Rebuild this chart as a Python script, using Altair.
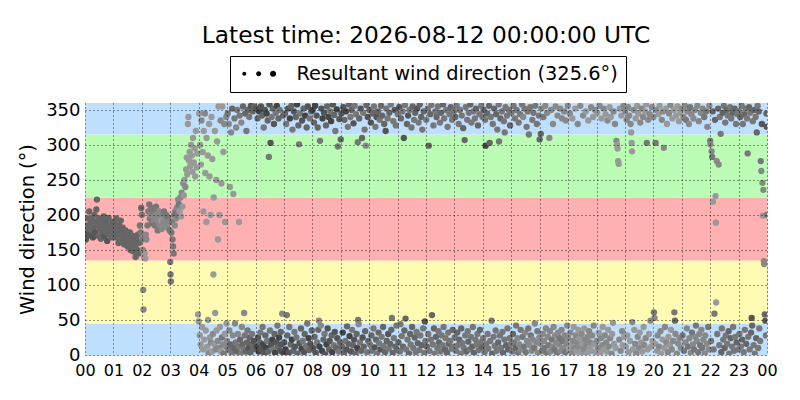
import altair as alt
import pandas as pd

# ---- readings: (hour of day, wind direction deg, grey shade code) ----
seg_00 = [(0.00,175,4),(0.03,165,4),(0.05,185,5),(0.08,170,4),(0.10,195,5),(0.12,180,5),(0.15,205,5),(0.18,172,4),(0.20,188,5),(0.23,178,5),(0.26,195,5),(0.28,168,4),(0.30,182,5),(0.33,200,5),(0.36,175,4),(0.38,190,5),(0.40,208,5),(0.42,222,5),(0.45,185,5),(0.48,170,5),(0.50,195,5),(0.53,180,5),(0.56,166,5),(0.58,192,5),(0.60,175,5),(0.63,188,5),(0.66,198,5),(0.68,170,4),(0.70,182,5),(0.73,175,5),(0.75,190,5),(0.78,163,4),(0.80,180,5),(0.83,196,5),(0.86,172,5),(0.88,185,5),(0.90,178,5),(0.93,168,5),(0.96,190,5),(0.98,182,5)]
seg_01 = [(1.02,175,5),(1.05,188,5),(1.08,168,5),(1.10,195,5),(1.13,180,5),(1.16,172,5),(1.18,160,5),(1.20,185,5),(1.23,178,5),(1.26,192,5),(1.28,165,5),(1.30,175,5),(1.33,182,5),(1.36,170,5),(1.38,158,5),(1.40,168,5),(1.43,178,5),(1.46,162,5),(1.48,172,5),(1.50,155,5),(1.53,168,5),(1.56,160,5),(1.58,175,5),(1.60,150,5),(1.63,165,5),(1.66,158,5),(1.68,170,5),(1.70,148,5),(1.73,160,5),(1.76,155,5),(1.78,140,5),(1.80,165,5),(1.83,150,5),(1.86,172,5),(1.88,145,5),(1.90,160,5),(1.93,185,6),(1.96,175,6),(1.98,210,5)]
seg_02 = [(2.00,200,6),(2.02,165,6),(2.04,150,7),(2.05,93,7),(2.06,65,7),(2.08,140,8),(2.10,145,8),(2.12,138,8),(2.14,172,7),(2.16,165,7),(2.20,185,6),(2.23,205,6),(2.26,215,6),(2.28,195,6),(2.30,200,7),(2.33,210,6),(2.36,188,6),(2.38,198,7),(2.40,205,6),(2.43,192,7),(2.46,185,6),(2.48,200,7),(2.50,212,6),(2.53,195,7),(2.56,178,6),(2.58,190,7),(2.60,205,7),(2.63,185,7),(2.66,198,7),(2.68,192,8),(2.70,180,7),(2.73,200,7),(2.76,190,7),(2.78,205,6),(2.80,185,7),(2.83,195,7),(2.86,200,6),(2.88,188,7),(2.90,182,7),(2.93,196,6),(2.96,190,7),(2.98,178,6)]
seg_03 = [(3.00,133,6),(3.01,115,6),(3.02,105,6),(3.04,175,6),(3.06,190,6),(3.08,165,6),(3.10,155,6),(3.12,145,6),(3.14,200,6),(3.16,185,7),(3.18,205,6),(3.20,195,7),(3.23,210,7),(3.26,200,6),(3.28,222,7),(3.30,215,6),(3.33,205,8),(3.36,225,7),(3.38,198,8),(3.40,232,7),(3.43,212,8),(3.46,245,7),(3.48,228,8),(3.50,250,8),(3.53,240,7),(3.56,265,8),(3.58,282,8),(3.60,258,8),(3.62,330,8),(3.64,340,8),(3.66,278,8),(3.68,290,8),(3.70,270,8),(3.73,300,8),(3.76,285,8),(3.78,262,8),(3.80,310,8),(3.83,275,8),(3.86,295,8),(3.88,255,8),(3.90,320,8),(3.93,268,8),(3.96,288,8),(3.98,58,8)]
seg_04 = [(4.00,48,8),(4.02,345,8),(4.04,28,8),(4.05,300,8),(4.07,15,8),(4.08,272,8),(4.10,335,7),(4.12,40,8),(4.14,290,8),(4.15,8,8),(4.17,205,8),(4.18,320,8),(4.20,22,8),(4.22,345,7),(4.23,260,8),(4.25,35,8),(4.27,190,8),(4.28,310,8),(4.30,12,8),(4.32,285,8),(4.33,50,8),(4.35,3,7),(4.37,330,8),(4.38,255,8),(4.40,25,8),(4.42,200,8),(4.43,18,7),(4.45,340,8),(4.47,5,8),(4.48,280,8),(4.50,30,7),(4.52,115,8),(4.53,225,8),(4.55,15,8),(4.57,320,8),(4.58,60,8),(4.60,8,7),(4.62,250,8),(4.63,35,8),(4.65,305,8),(4.67,20,7),(4.68,165,8),(4.70,355,8),(4.72,10,7),(4.73,200,8),(4.75,40,8),(4.77,335,7),(4.78,5,8),(4.80,245,8),(4.82,25,6),(4.83,355,8),(4.85,15,7),(4.87,290,8),(4.88,2,6),(4.90,330,7),(4.92,30,8),(4.93,190,8),(4.95,12,7),(4.97,340,7),(4.98,45,8)]
seg_05 = [(5.00,20,7),(5.02,345,6),(5.04,8,6),(5.06,330,7),(5.08,35,7),(5.10,240,8),(5.12,15,5),(5.14,318,7),(5.16,3,6),(5.18,352,5),(5.20,28,7),(5.22,230,8),(5.24,10,5),(5.26,338,6),(5.28,45,7),(5.30,18,6),(5.32,325,7),(5.34,5,5),(5.36,350,6),(5.38,30,7),(5.40,12,6),(5.42,190,8),(5.44,342,6),(5.46,22,5),(5.48,2,6),(5.50,332,7),(5.52,40,7),(5.54,15,5),(5.56,355,5),(5.58,8,6),(5.60,60,7),(5.62,28,6),(5.64,345,5),(5.66,5,5),(5.68,320,6),(5.70,18,5),(5.72,35,6),(5.74,350,5),(5.76,10,4),(5.78,340,6),(5.80,25,5),(5.82,3,5),(5.84,356,4),(5.86,15,5),(5.88,30,6),(5.90,348,5),(5.92,8,5),(5.94,20,4),(5.96,355,5),(5.98,12,5)]
seg_06 = [(6.02,352,4),(6.05,12,3),(6.07,338,5),(6.09,25,4),(6.11,5,3),(6.13,348,3),(6.15,18,5),(6.17,32,6),(6.19,355,4),(6.21,8,4),(6.23,342,5),(6.25,40,6),(6.27,15,3),(6.29,325,6),(6.31,2,4),(6.33,350,4),(6.35,28,5),(6.37,10,3),(6.39,345,3),(6.41,20,6),(6.43,335,5),(6.45,5,5),(6.47,283,6),(6.49,358,4),(6.51,35,6),(6.53,303,4),(6.55,14,4),(6.57,340,6),(6.59,22,3),(6.61,352,5),(6.63,8,6),(6.65,330,4),(6.67,30,5),(6.69,3,3),(6.71,346,6),(6.73,18,4),(6.75,356,3),(6.77,42,6),(6.79,12,5),(6.81,338,5),(6.83,25,3),(6.85,350,6),(6.87,6,4),(6.89,33,5),(6.91,15,4),(6.94,59,7),(6.97,342,5),(6.99,2,3)]
seg_07 = [(7.01,18,4),(7.04,345,5),(7.06,8,3),(7.08,330,6),(7.10,57,6),(7.12,28,5),(7.15,352,4),(7.17,3,4),(7.19,40,6),(7.21,338,3),(7.24,15,5),(7.26,356,5),(7.28,22,3),(7.30,322,6),(7.33,6,5),(7.35,348,4),(7.37,33,6),(7.39,12,4),(7.42,340,5),(7.44,25,6),(7.46,358,3),(7.48,2,5),(7.51,328,5),(7.53,301,6),(7.55,17,4),(7.57,345,6),(7.60,38,5),(7.62,9,3),(7.64,335,4),(7.66,20,6),(7.69,352,5),(7.71,4,4),(7.73,30,5),(7.75,342,3),(7.78,13,6),(7.80,325,5),(7.82,45,6),(7.84,355,4),(7.87,24,3),(7.89,7,5),(7.91,338,6),(7.93,16,4),(7.96,348,5),(7.98,35,5)]
seg_08 = [(8.01,350,3),(8.03,10,4),(8.06,332,5),(8.08,26,5),(8.10,356,3),(8.12,3,4),(8.15,342,4),(8.17,18,6),(8.19,325,5),(8.21,36,5),(8.23,49,7),(8.25,12,3),(8.27,306,6),(8.30,42,7),(8.32,352,4),(8.34,6,3),(8.36,338,3),(8.39,22,5),(8.41,346,4),(8.43,30,6),(8.45,1,4),(8.48,328,5),(8.50,15,3),(8.52,355,5),(8.54,38,4),(8.57,340,3),(8.59,8,5),(8.61,20,4),(8.63,348,6),(8.66,334,3),(8.68,28,5),(8.70,4,3),(8.72,358,4),(8.75,14,6),(8.77,343,5),(8.79,33,4),(8.81,320,6),(8.84,10,5),(8.86,351,3),(8.88,24,4),(8.90,298,6),(8.93,5,6),(8.95,337,4),(8.97,18,5)]
seg_09 = [(9.00,308,5),(9.02,345,4),(9.04,12,5),(9.07,32,3),(9.09,354,4),(9.11,3,5),(9.13,336,5),(9.16,20,6),(9.18,348,3),(9.20,8,4),(9.22,41,5),(9.25,326,6),(9.27,16,5),(9.29,358,5),(9.31,27,3),(9.34,340,6),(9.36,5,4),(9.38,350,5),(9.40,36,6),(9.43,14,5),(9.45,331,4),(9.47,22,4),(9.49,356,6),(9.52,2,5),(9.54,344,6),(9.56,30,5),(9.58,10,3),(9.60,304,6),(9.61,50,6),(9.63,44,7),(9.65,338,5),(9.67,18,6),(9.70,352,4),(9.72,6,5),(9.75,310,5),(9.77,25,4),(9.79,346,6),(9.81,12,5),(9.84,322,6),(9.86,34,5),(9.88,299,7),(9.90,357,5),(9.93,4,6),(9.95,340,4),(9.97,20,5)]
seg_10 = [(10.01,350,5),(10.03,15,6),(10.06,332,4),(10.08,28,5),(10.10,6,6),(10.13,345,5),(10.15,38,6),(10.17,355,6),(10.19,11,4),(10.22,326,6),(10.24,22,5),(10.26,340,4),(10.28,2,6),(10.31,348,5),(10.33,32,5),(10.35,17,6),(10.37,336,6),(10.40,8,4),(10.42,356,5),(10.44,26,6),(10.46,342,5),(10.49,40,5),(10.51,13,6),(10.53,330,5),(10.56,4,5),(10.58,320,4),(10.60,352,6),(10.62,20,5),(10.65,338,6),(10.67,30,4),(10.69,9,6),(10.71,346,5),(10.74,16,5),(10.76,358,6),(10.78,36,5),(10.80,53,6),(10.83,3,5),(10.85,334,6),(10.87,24,6),(10.90,350,4),(10.92,12,5),(10.94,328,6),(10.96,42,6),(10.98,7,5)]
seg_11 = [(11.01,344,6),(11.03,18,5),(11.06,354,4),(11.08,5,6),(11.10,44,6),(11.12,338,5),(11.15,27,6),(11.17,348,6),(11.19,12,5),(11.22,310,4),(11.24,35,5),(11.26,357,6),(11.28,52,5),(11.30,8,6),(11.33,330,5),(11.35,22,6),(11.37,342,4),(11.40,2,5),(11.42,350,6),(11.44,30,5),(11.46,15,6),(11.49,325,6),(11.51,40,5),(11.53,355,5),(11.55,10,6),(11.58,336,6),(11.60,25,5),(11.62,346,5),(11.64,4,6),(11.67,33,6),(11.69,352,4),(11.71,17,5),(11.74,332,6),(11.76,7,6),(11.78,358,5),(11.80,28,6),(11.83,340,5),(11.85,14,5),(11.87,322,6),(11.90,38,6),(11.92,348,5),(11.94,3,6),(11.96,48,4),(11.98,20,6)]
seg_12 = [(12.01,336,6),(12.03,12,5),(12.06,352,6),(12.08,30,6),(12.10,299,5),(12.12,6,6),(12.15,344,5),(12.17,22,6),(12.19,357,6),(12.21,57,5),(12.24,15,6),(12.26,328,6),(12.28,38,5),(12.30,2,6),(12.33,348,6),(12.35,26,5),(12.37,340,5),(12.40,10,6),(12.42,355,6),(12.44,34,6),(12.46,18,5),(12.49,332,6),(12.51,5,6),(12.53,346,5),(12.55,28,6),(12.58,14,6),(12.60,358,5),(12.62,40,6),(12.64,338,6),(12.67,8,5),(12.69,24,6),(12.71,350,6),(12.74,3,5),(12.76,326,6),(12.78,32,6),(12.80,16,5),(12.83,344,6),(12.85,20,6),(12.87,354,5),(12.90,9,6),(12.92,336,6),(12.94,36,5),(12.96,12,6),(12.98,348,6)]
seg_13 = [(13.01,25,6),(13.03,340,5),(13.06,6,6),(13.08,356,6),(13.10,32,5),(13.13,14,6),(13.15,330,6),(13.17,22,5),(13.19,350,6),(13.22,2,6),(13.24,38,5),(13.26,342,6),(13.28,17,6),(13.31,324,5),(13.33,10,6),(13.36,307,5),(13.38,28,6),(13.40,354,6),(13.42,5,5),(13.45,336,6),(13.47,34,6),(13.49,19,5),(13.51,346,6),(13.54,8,6),(13.56,358,5),(13.58,26,6),(13.60,332,6),(13.63,12,5),(13.65,40,6),(13.67,348,6),(13.69,3,5),(13.72,338,6),(13.74,22,6),(13.76,352,5),(13.78,15,6),(13.81,30,6),(13.83,328,5),(13.85,7,6),(13.88,344,6),(13.90,36,5),(13.92,18,6),(13.94,356,6),(13.97,11,5),(13.99,340,6)]
seg_14 = [(14.01,24,6),(14.03,350,5),(14.06,4,6),(14.08,336,6),(14.10,299,3),(14.12,16,6),(14.15,345,5),(14.17,30,6),(14.19,9,6),(14.22,356,5),(14.24,303,5),(14.26,20,6),(14.28,340,6),(14.31,49,6),(14.33,2,5),(14.35,330,6),(14.38,26,6),(14.40,352,5),(14.42,13,6),(14.45,35,6),(14.47,344,5),(14.49,6,6),(14.51,322,6),(14.54,18,5),(14.56,358,6),(14.57,305,6),(14.60,28,6),(14.62,338,5),(14.64,10,6),(14.67,348,6),(14.69,33,6),(14.71,3,5),(14.74,334,6),(14.76,22,6),(14.77,318,6),(14.80,354,6),(14.82,14,5),(14.85,342,6),(14.87,38,6),(14.89,8,5),(14.92,350,6),(14.94,24,6),(14.96,328,5),(14.99,16,6)]
seg_15 = [(15.01,346,6),(15.03,5,6),(15.06,30,5),(15.08,356,6),(15.10,18,6),(15.13,338,6),(15.15,10,5),(15.17,42,6),(15.19,350,6),(15.22,24,7),(15.24,2,6),(15.26,332,6),(15.28,15,7),(15.31,344,6),(15.33,36,6),(15.35,8,7),(15.38,358,6),(15.40,26,6),(15.42,340,7),(15.45,12,6),(15.47,352,6),(15.49,32,7),(15.51,4,6),(15.54,326,6),(15.56,20,7),(15.58,348,6),(15.60,38,6),(15.62,315,6),(15.65,14,7),(15.67,354,6),(15.69,28,6),(15.72,6,7),(15.74,336,6),(15.76,22,7),(15.78,346,6),(15.81,10,6),(15.83,45,7),(15.85,356,6),(15.88,18,7),(15.90,330,6),(15.92,34,6),(15.94,3,7),(15.97,342,6),(15.99,25,7)]
seg_16 = [(16.00,308,5),(16.02,16,7),(16.04,316,5),(16.06,352,7),(16.08,6,6),(16.11,30,7),(16.13,340,6),(16.15,20,7),(16.17,10,6),(16.20,356,7),(16.22,38,7),(16.24,2,6),(16.26,346,7),(16.29,26,7),(16.31,14,6),(16.34,310,7),(16.36,34,7),(16.38,5,7),(16.40,350,7),(16.43,22,6),(16.45,12,7),(16.47,330,7),(16.49,40,7),(16.52,8,6),(16.54,28,7),(16.56,355,7),(16.58,18,7),(16.61,3,6),(16.63,342,7),(16.65,32,7),(16.68,15,7),(16.70,24,6),(16.72,352,7),(16.74,6,7),(16.77,36,7),(16.79,338,7),(16.81,20,6),(16.83,10,7),(16.86,348,7),(16.88,28,7),(16.90,4,6),(16.92,335,7),(16.95,16,7),(16.97,42,7),(16.99,356,7)]
seg_17 = [(17.01,24,7),(17.04,8,8),(17.06,345,7),(17.08,32,7),(17.11,14,8),(17.13,2,7),(17.15,338,8),(17.18,20,7),(17.20,40,8),(17.22,10,7),(17.25,352,8),(17.27,28,7),(17.29,5,8),(17.32,18,7),(17.34,330,7),(17.36,36,8),(17.39,12,7),(17.41,24,8),(17.43,356,7),(17.46,3,8),(17.48,30,7),(17.50,16,8),(17.53,342,7),(17.55,8,7),(17.57,38,8),(17.60,22,7),(17.62,348,8),(17.64,14,7),(17.67,2,8),(17.69,26,7),(17.71,335,8),(17.74,34,7),(17.76,10,8),(17.78,18,7),(17.81,354,7),(17.83,6,8),(17.85,28,7),(17.88,340,8),(17.90,42,7),(17.92,15,8),(17.95,350,7),(17.97,4,8)]
seg_18 = [(18.01,20,7),(18.03,346,8),(18.06,10,7),(18.08,32,8),(18.11,356,7),(18.13,3,8),(18.15,24,7),(18.18,338,8),(18.20,14,7),(18.22,40,8),(18.25,352,7),(18.27,8,8),(18.29,28,7),(18.32,344,8),(18.34,18,7),(18.36,5,8),(18.39,335,7),(18.41,36,8),(18.43,12,7),(18.46,354,8),(18.48,24,7),(18.50,340,8),(18.53,2,7),(18.55,30,8),(18.58,46,8),(18.60,348,7),(18.62,16,8),(18.65,330,7),(18.67,10,8),(18.70,306,7),(18.72,301,8),(18.74,295,8),(18.76,277,8),(18.78,273,8),(18.80,22,7),(18.82,352,8),(18.85,6,7),(18.87,342,8),(18.90,34,7),(18.92,14,8),(18.95,356,7),(18.97,26,8)]
seg_19 = [(19.01,348,7),(19.03,12,8),(19.06,336,7),(19.08,28,8),(19.11,354,7),(19.13,4,8),(19.15,342,7),(19.18,20,8),(19.20,330,7),(19.22,318,8),(19.24,303,8),(19.25,291,8),(19.26,47,7),(19.28,8,8),(19.31,350,7),(19.33,36,8),(19.36,16,7),(19.38,338,8),(19.40,2,7),(19.43,356,8),(19.45,26,7),(19.47,345,8),(19.50,10,7),(19.52,32,8),(19.54,332,7),(19.57,18,8),(19.59,352,7),(19.61,5,8),(19.64,340,7),(19.66,40,8),(19.68,14,7),(19.71,348,8),(19.73,24,7),(19.75,358,8),(19.77,303,6),(19.80,8,8),(19.82,336,7),(19.85,30,8),(19.87,344,7),(19.90,49,7),(19.92,12,8),(19.95,354,7),(19.97,20,8)]
seg_20 = [(20.00,340,7),(20.02,61,6),(20.04,53,7),(20.06,16,8),(20.08,303,6),(20.10,350,7),(20.13,6,8),(20.15,28,7),(20.18,344,8),(20.20,12,7),(20.22,356,8),(20.25,34,7),(20.27,2,8),(20.30,336,7),(20.32,22,8),(20.34,348,7),(20.37,296,7),(20.39,10,8),(20.41,40,7),(20.44,352,8),(20.46,18,7),(20.48,330,8),(20.51,4,7),(20.53,26,8),(20.55,345,7),(20.58,14,8),(20.60,357,7),(20.62,36,8),(20.65,8,7),(20.67,338,8),(20.70,20,7),(20.72,350,8),(20.74,61,6),(20.76,49,5),(20.78,30,7),(20.81,342,8),(20.83,2,7),(20.85,355,8),(20.88,16,7),(20.90,334,8),(20.92,24,7),(20.95,346,8),(20.97,10,7)]
seg_21 = [(21.01,352,7),(21.03,28,6),(21.06,340,7),(21.08,6,6),(21.11,356,7),(21.13,18,7),(21.15,336,6),(21.18,38,7),(21.20,348,7),(21.22,12,6),(21.25,330,7),(21.27,24,7),(21.29,354,6),(21.32,3,7),(21.34,344,7),(21.36,32,6),(21.39,15,7),(21.41,338,7),(21.43,8,6),(21.46,350,7),(21.48,26,7),(21.50,42,6),(21.53,20,7),(21.55,356,7),(21.58,4,6),(21.60,334,7),(21.62,30,7),(21.65,14,6),(21.67,346,7),(21.69,36,7),(21.72,10,6),(21.74,352,7),(21.76,22,7),(21.79,340,6),(21.81,2,7),(21.83,28,7),(21.86,348,6),(21.88,16,7),(21.90,326,7),(21.93,40,6),(21.95,8,7),(21.97,356,7)]
seg_22 = [(22.00,306,6),(22.01,301,7),(22.03,20,6),(22.05,291,7),(22.07,283,6),(22.09,348,5),(22.10,219,8),(22.12,8,6),(22.15,59,6),(22.17,336,5),(22.19,227,8),(22.20,189,8),(22.21,75,8),(22.23,277,7),(22.25,30,6),(22.28,352,5),(22.30,272,7),(22.32,14,6),(22.34,340,6),(22.37,316,6),(22.39,4,5),(22.41,38,6),(22.44,346,5),(22.46,22,6),(22.48,356,6),(22.51,10,5),(22.53,332,6),(22.55,28,6),(22.58,350,5),(22.60,16,6),(22.62,342,6),(22.65,34,5),(22.67,2,6),(22.70,354,6),(22.72,24,5),(22.74,338,6),(22.77,12,6),(22.79,346,5),(22.81,40,6),(22.84,6,6),(22.86,352,5),(22.88,26,6),(22.91,330,6),(22.93,18,5),(22.95,344,6),(22.98,8,6)]
seg_23 = [(23.01,348,6),(23.03,30,6),(23.06,340,5),(23.08,12,6),(23.11,356,6),(23.13,22,5),(23.15,330,6),(23.18,4,6),(23.20,344,5),(23.22,36,6),(23.25,352,6),(23.27,16,5),(23.30,338,6),(23.32,288,6),(23.34,26,6),(23.37,354,5),(23.39,8,6),(23.41,346,6),(23.44,32,5),(23.46,53,4),(23.48,42,5),(23.50,334,6),(23.53,14,6),(23.55,350,5),(23.57,2,6),(23.60,340,6),(23.62,24,5),(23.64,318,5),(23.67,356,6),(23.69,10,6),(23.71,348,5),(23.73,38,6),(23.76,20,6),(23.78,277,6),(23.80,263,7),(23.82,330,4),(23.84,246,7),(23.85,199,8),(23.87,236,7),(23.89,134,7),(23.90,130,7),(23.92,58,5),(23.94,49,4),(23.96,28,6),(23.98,345,5),(23.99,326,4),(24.00,200,6)]

# ---- background direction bands ----
band_lo = [0, 45, 135, 225, 315]
band_hi = [45, 135, 225, 315, 360]
band_color = ["#bfdfff", "#fffbb3", "#ffb0b0", "#bbfdb5", "#bfdfff"]

hour_ticks = list(range(0, 25))
dir_ticks = [0, 50, 100, 150, 200, 250, 300, 350]
title_text = "Latest time: 2026-08-12 00:00:00 UTC"
legend_text = "Resultant wind direction (325.6°)"

segments = [seg_00, seg_01, seg_02, seg_03, seg_04, seg_05, seg_06, seg_07,
            seg_08, seg_09, seg_10, seg_11, seg_12, seg_13, seg_14, seg_15,
            seg_16, seg_17, seg_18, seg_19, seg_20, seg_21, seg_22, seg_23]
rows = [p for seg in segments for p in seg]
pts = pd.DataFrame(rows, columns=["hour", "direction", "shade"])
pts["fill"] = pts["shade"].map(lambda c: "#%02x%02x%02x" % ((17 * c + 17,) * 3))

bands = pd.DataFrame({"lo": band_lo, "hi": band_hi, "color": band_color})
leg = pd.DataFrame({"series": [legend_text]})

FONT = "DejaVu Sans"

xscale = alt.Scale(domain=[0, 24], nice=False, zero=False)
yscale = alt.Scale(domain=[0, 360], nice=False, zero=False)

xaxis = alt.Axis(values=hour_ticks, labelExpr="(datum.value % 24) < 10 ? '0' + (datum.value % 24) : '' + (datum.value % 24)",
                 title=None, grid=True, gridDash=[1, 3], gridColor="black", gridWidth=0.8,
                 ticks=False, domain=False, labelFont=FONT, labelFontSize=16, labelColor="black",
                 labelPadding=7, labelOverlap=False, labelFlush=False, zindex=1)
yaxis = alt.Axis(values=dir_ticks, title="Wind direction (°)", grid=True, gridDash=[1, 3],
                 gridColor="black", gridWidth=0.8, ticks=False, domain=False,
                 labelFont=FONT, labelFontSize=18, labelColor="black", labelPadding=5,
                 labelOverlap=False, labelFlush=False,
                 titleFont=FONT, titleFontSize=19.4, titleFontWeight="normal", titleColor="black",
                 titlePadding=8, zindex=1)

band_layer = alt.Chart(bands).mark_rect().encode(
    x=alt.datum(0, scale=xscale, axis=xaxis),
    x2=alt.datum(24),
    y=alt.Y("lo:Q", scale=yscale, axis=yaxis),
    y2="hi:Q",
    fill=alt.Fill("color:N", scale=None),
)

point_layer = alt.Chart(pts).mark_circle(size=40, opacity=1, clip=True).encode(
    x=alt.X("hour:Q", scale=xscale, axis=xaxis),
    y=alt.Y("direction:Q", scale=yscale, axis=yaxis),
    fill=alt.Fill("fill:N", scale=None),
)

def circ(cx, r):
    return "M%.2f,0A%.2f,%.2f 0 1,0 %.2f,0A%.2f,%.2f 0 1,0 %.2f,0Z" % (cx - r, r, r, cx + r, r, r, cx - r)

dots_path = circ(-1.6, 0.22) + circ(0.0, 0.28) + circ(1.6, 0.34)

legend_layer = alt.Chart(leg).mark_point(filled=True, opacity=0).encode(
    x=alt.datum(12, scale=xscale, axis=xaxis),
    y=alt.datum(180, scale=yscale, axis=yaxis),
    color=alt.Color("series:N", scale=alt.Scale(range=["black"]),
                    legend=alt.Legend(title=None, orient="none", legendX=145, legendY=-47,
                                      symbolType=dots_path, symbolSize=324, symbolOpacity=1,
                                      symbolFillColor="black", symbolStrokeWidth=0,
                                      symbolOffset=11, labelOffset=28, labelLimit=0,
                                      labelFont=FONT, labelFontSize=19.4, labelColor="black",
                                      strokeColor="black", fillColor="white", padding=8,
                                      cornerRadius=0)),
)

chart = alt.layer(band_layer, point_layer, legend_layer).properties(
    width=682, height=252,
    title=alt.Title(title_text, font=FONT, fontSize=23.3, fontWeight="normal", color="black",
                    anchor="middle", frame="group", offset=7),
    padding={"left": 9, "top": 16, "right": 5, "bottom": 5},
).configure_view(stroke="black", strokeWidth=1.2).configure(background="white")

chart.save("out.html", embed_options={"renderer": "svg", "actions": False})
